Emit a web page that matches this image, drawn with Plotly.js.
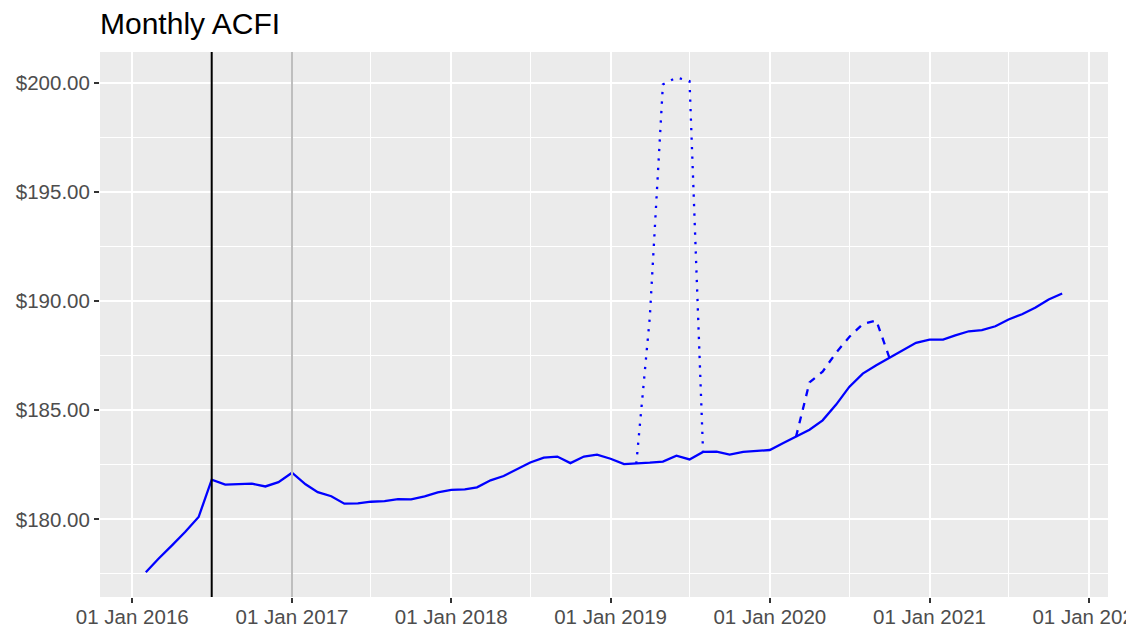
<!DOCTYPE html>
<html>
<head>
<meta charset="utf-8">
<script src="https://cdn.plot.ly/plotly-3.0.1.min.js"></script>
<style>
  html, body { margin: 0; padding: 0; background: #ffffff; overflow: hidden; }
  #chart { width: 1126px; height: 629px; }
</style>
</head>
<body>
<div id="chart"></div>
<script>
// ---- Data ----
const months = [
  '2016-02-01','2016-03-01','2016-04-01','2016-05-01','2016-06-01','2016-07-01','2016-08-01','2016-09-01','2016-10-01','2016-11-01','2016-12-01',
  '2017-01-01','2017-02-01','2017-03-01','2017-04-01','2017-05-01','2017-06-01','2017-07-01','2017-08-01','2017-09-01','2017-10-01','2017-11-01','2017-12-01',
  '2018-01-01','2018-02-01','2018-03-01','2018-04-01','2018-05-01','2018-06-01','2018-07-01','2018-08-01','2018-09-01','2018-10-01','2018-11-01','2018-12-01',
  '2019-01-01','2019-02-01','2019-03-01','2019-04-01','2019-05-01','2019-06-01','2019-07-01','2019-08-01','2019-09-01','2019-10-01','2019-11-01','2019-12-01',
  '2020-01-01','2020-02-01','2020-03-01','2020-04-01','2020-05-01','2020-06-01','2020-07-01','2020-08-01','2020-09-01','2020-10-01','2020-11-01','2020-12-01',
  '2021-01-01','2021-02-01','2021-03-01','2021-04-01','2021-05-01','2021-06-01','2021-07-01','2021-08-01','2021-09-01','2021-10-01','2021-11-01'
];
const acfi = [
  177.58, 178.20, 178.81, 179.42, 180.11, 181.82, 181.59, 181.62, 181.64, 181.51, 181.71,
  182.14, 181.61, 181.25, 181.06, 180.72, 180.73, 180.81, 180.84, 180.93, 180.92, 181.06, 181.24,
  181.35, 181.38, 181.47, 181.79, 181.99, 182.31, 182.61, 182.83, 182.88, 182.58, 182.88, 182.97,
  182.78, 182.53, 182.55, 182.60, 182.65, 182.92, 182.75, 183.09, 183.10, 182.97, 183.09, 183.13,
  183.18, 183.50, 183.78, 184.11, 184.54, 185.26, 186.07, 186.68, 187.06, 187.41, 187.75, 188.09,
  188.24, 188.24, 188.43, 188.62, 188.67, 188.85, 189.16, 189.40, 189.71, 190.08, 190.35
];

const dottedMonths = ['2019-03-01','2019-04-01','2019-05-01','2019-06-01','2019-07-01','2019-08-01'];
const dottedValues = [182.55, 189.27, 199.93, 200.25, 200.08, 183.09];

const dashedMonths = ['2020-03-01','2020-04-01','2020-05-01','2020-06-01','2020-07-01','2020-08-01','2020-09-01','2020-10-01'];
const dashedValues = [183.78, 186.28, 186.77, 187.64, 188.36, 188.95, 189.12, 187.41];

const vlineDates = ['2016-07-01', '2017-01-01'];
const vlineColors = ['#000000', '#BEBEBE'];

const titleText = 'Monthly ACFI';

// ---- Plot ----
const FONT = 'Liberation Sans, Arial, Helvetica, sans-serif';
const blue = '#0000FF';
const TICK_SIZE = 20.5;

const traces = [
  { x: dottedMonths, y: dottedValues, type: 'scatter', mode: 'lines',
    line: { color: blue, width: 2.3, dash: '2.3px,7.2px' }, hoverinfo: 'skip', showlegend: false },
  { x: dashedMonths, y: dashedValues, type: 'scatter', mode: 'lines',
    line: { color: blue, width: 2.3, dash: '7px,7px' }, hoverinfo: 'skip', showlegend: false },
  { x: months, y: acfi, type: 'scatter', mode: 'lines',
    line: { color: blue, width: 2.3 }, showlegend: false }
];

const shapes = vlineDates.map((d, i) => ({
  type: 'line', xref: 'x', yref: 'paper', x0: d, x1: d, y0: 0, y1: 1,
  line: { color: vlineColors[i], width: 2 }, layer: 'above'
}));

const layout = {
  width: 1126, height: 629,
  margin: { l: 100, r: 18, t: 52, b: 32 },
  paper_bgcolor: '#FFFFFF',
  plot_bgcolor: '#EBEBEB',
  font: { family: FONT, color: '#4D4D4D' },
  title: {
    text: titleText,
    font: { family: FONT, size: 30, color: '#000000' },
    x: 0, xref: 'paper', xanchor: 'left',
    y: 1 - 23.5 / 629, yref: 'container', yanchor: 'middle'
  },
  xaxis: {
    type: 'date',
    range: ['2015-10-19', '2022-02-14'],
    tick0: '2016-01-01', dtick: 'M12',
    tickformat: '%d %b %Y',
    ticks: 'outside', ticklen: 5, tickwidth: 2, tickcolor: '#333333',
    tickfont: { family: FONT, size: TICK_SIZE, color: '#4D4D4D' },
    ticklabeloverflow: 'allow',
    ticklabelstandoff: -4,
    showgrid: true, gridcolor: '#FFFFFF', gridwidth: 2,
    minor: { tick0: '2016-01-01', dtick: 'M6', showgrid: true, gridcolor: '#FFFFFF', gridwidth: 1, ticks: '' },
    zeroline: false, showline: false, automargin: false, fixedrange: true
  },
  yaxis: {
    range: [176.445, 201.415],
    tick0: 0, dtick: 5,
    tickprefix: '$', tickformat: '.2f',
    ticks: 'outside', ticklen: 5, tickwidth: 2, tickcolor: '#333333',
    tickfont: { family: FONT, size: TICK_SIZE, color: '#4D4D4D' },
    showgrid: true, gridcolor: '#FFFFFF', gridwidth: 2,
    minor: { tick0: 0, dtick: 2.5, showgrid: true, gridcolor: '#FFFFFF', gridwidth: 1, ticks: '' },
    zeroline: false, showline: false, automargin: false, fixedrange: true
  },
  shapes: shapes,
  showlegend: false
};

Plotly.newPlot('chart', traces, layout, { staticPlot: true, displayModeBar: false });
</script>
</body>
</html>
